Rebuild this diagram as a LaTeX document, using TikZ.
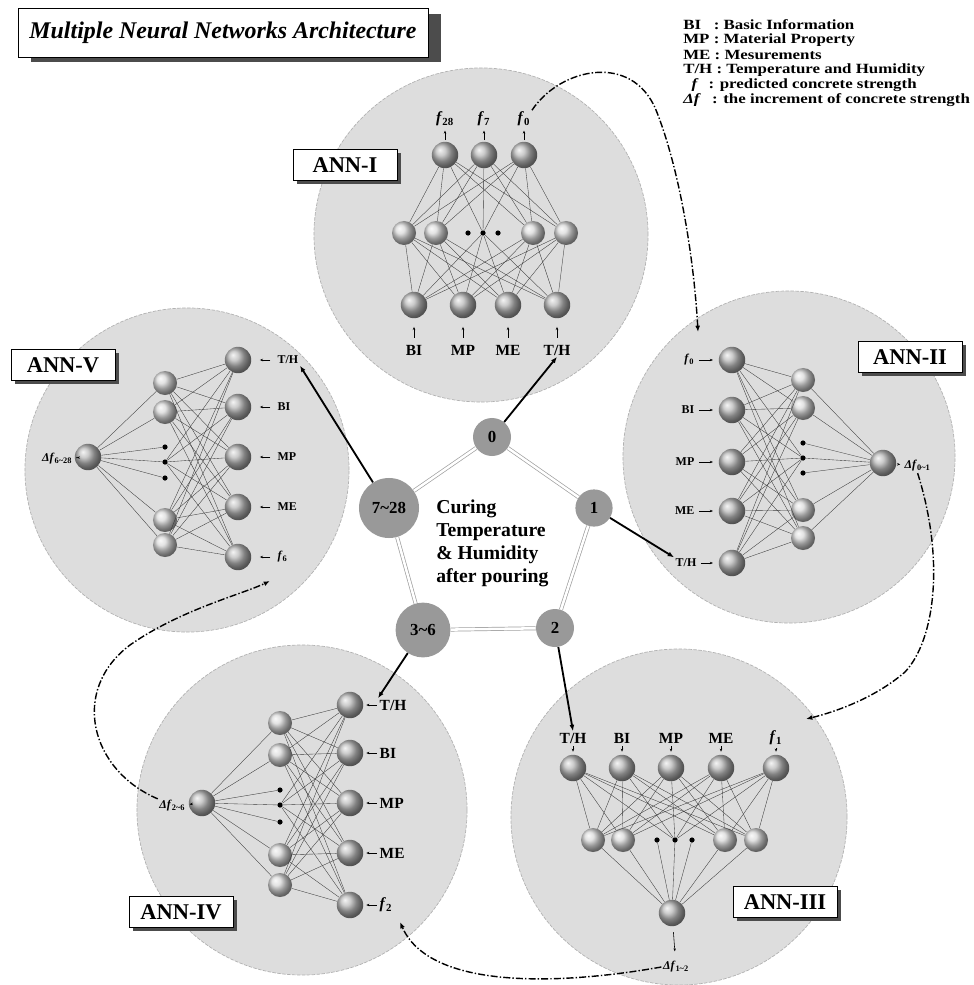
\documentclass[tikz,border=0pt]{standalone}
\usepackage{fontspec}
\setmainfont{Liberation Serif}
\newfontfamily\legfont{Liberation Serif}[FakeStretch=1.2]
\usetikzlibrary{arrows.meta,shadows}
\newcommand\setfs[2]{\fontsize{#1}{#2}\selectfont}
\newcommand\fval[1]{\textbf{\textit{f}}\textsubscript{\textbf{#1}}}
\newcommand\dfval[1]{\textbf{\textit{Δf}}\textsubscript{\textbf{#1}}}
\newcommand\tl{\textasciitilde}
\begin{document}
\begin{tikzpicture}[x=0.025cm,y=-0.025cm,
  panel/.style={circle, inner sep=0, fill=gray!27, draw=gray!60, dash pattern=on 2.5pt off 1pt, line width=0.5pt},
  neuron/.style={circle, inner sep=0, minimum size=0.66cm, shading=ball, ball color=gray!55},
  hid/.style={neuron, minimum size=0.6cm, ball color=gray!30},
  dotn/.style={circle, inner sep=0, minimum size=0.13cm, fill=black},
  wire/.style={draw=gray!45!black, line width=0.25pt},
  lbl/.style={font=\setfs{11}{12}\bfseries, inner sep=1pt},
  slbl/.style={font=\setfs{8.5}{10}\bfseries, inner sep=1pt},
  tick/.style={-{Stealth[length=2.2pt,width=1.8pt]}, line width=0.4pt, shorten >=2pt, shorten <=1pt},
  ltick/.style={tick, shorten >=6pt, shorten <=4pt},
  annbox/.style={draw=black, line width=0.6pt, fill=white, font=\setfs{16}{18}\bfseries, minimum width=2.6cm, minimum height=0.78cm, inner sep=0,
    drop shadow={shadow xshift=2.5pt, shadow yshift=-2.5pt, fill=gray!60!black, opacity=1}},
  titlebox/.style={draw=black, line width=0.6pt, fill=white, font=\setfs{17}{20}\bfseries\itshape, minimum width=10.25cm, minimum height=1.22cm, inner sep=0,
    drop shadow={shadow xshift=9pt, shadow yshift=-3.5pt, fill=gray!60!black, opacity=1}},
  stage/.style={circle, inner sep=0, fill=gray!80, font=\setfs{12}{14}\bfseries},
  ring/.style={draw=gray!75, line width=0.5pt, double=white, double distance=1.8pt},
  link/.style={line width=1.3pt, -{Latex[length=4.5pt,width=3.5pt]}},
  feed/.style={line width=1pt, dash pattern=on 5pt off 1.5pt on 1pt off 1.5pt, -{Latex[length=4.5pt,width=3.5pt]}},
  leg/.style={anchor=west, inner sep=0, font=\legfont\setfs{10}{11}\bfseries}
]
\useasboundingbox (0,0) rectangle (973,985);

% ---------- title and legend ----------
\node[titlebox] (T) at (223,33) {Multiple Neural Networks Architecture};
\node[leg] (k1) at (683,25) {BI\hspace{9pt}: Basic Information};
\node[leg] (k2) at (683,40) {MP : Material Property};
\node[leg] (k3) at (683,55) {ME : Mesurements};
\node[leg] (k4) at (683,70) {T/H : Temperature and Humidity};
\node[leg] (k5) at (683,85) {\hspace{6pt}\textit{f}\hspace{4pt} : predicted concrete strength};
\node[leg] (k6) at (683,100) {\textit{Δf}\hspace{8pt}: the increment of concrete strength};

% ---------- panels ----------
\node[panel, minimum size=8.35cm] (P1) at (481,235) {};
\node[panel, minimum size=8.3cm]  (P2) at (789,457) {};
\node[panel, minimum size=8.4cm]  (P3) at (679,817) {};
\node[panel, minimum size=8.25cm] (P4) at (302,810) {};
\node[panel, minimum size=8.1cm]  (P5) at (187,470) {};

% ---------- ANN-I ----------
\foreach \x [count=\i] in {445,484,524} \node[neuron] (A-o\i) at (\x,155) {};
\foreach \x [count=\i] in {404,436,533,566} \node[hid] (A-h\i) at (\x,233) {};
\foreach \x [count=\i] in {468,483,498} \node[dotn] (A-d\i) at (\x,233) {};
\foreach \x [count=\i] in {414,463,508,557} \node[neuron] (A-i\i) at (\x,305) {};
\foreach \a in {1,2,3}{\foreach \b in {1,...,4}{\draw[wire] (A-o\a) -- (A-h\b);} \draw[wire] (A-o\a) -- (A-d2);}
\foreach \a in {1,...,4}{\foreach \b in {1,...,4}{\draw[wire] (A-i\a) -- (A-h\b);} \draw[wire] (A-i\a) -- (A-d2);}
\node[lbl] (A-l1) at (414,350) {BI};
\node[lbl] (A-l2) at (463,350) {MP};
\node[lbl] (A-l3) at (508,350) {ME};
\node[lbl] (A-l4) at (557,350) {T/H};
\foreach \i in {1,...,4} \draw[ltick] (A-l\i) -- (A-i\i);
\node[lbl] (A-f1) at (445,119) {\fval{28}};
\node[lbl] (A-f2) at (484,119) {\fval{7}};
\node[lbl] (A-f3) at (524,119) {\fval{0}};
\foreach \i in {1,2,3} \draw[tick] (A-o\i) -- (A-f\i);
\node[annbox] (N1) at (345,165) {ANN-I};

% ---------- ANN-II ----------
\foreach \y [count=\i] in {360,410,462,511,563} \node[neuron] (B-i\i) at (732,\y) {};
\foreach \y [count=\i] in {380,408,510,538} \node[hid] (B-h\i) at (803,\y) {};
\foreach \y [count=\i] in {443,458,473} \node[dotn] (B-d\i) at (803,\y) {};
\node[neuron] (B-o) at (883,463) {};
\foreach \a in {1,...,5}{\foreach \b in {1,...,4}{\draw[wire] (B-i\a) -- (B-h\b);} \draw[wire] (B-i\a) -- (B-d2);}
\foreach \b in {1,...,4} \draw[wire] (B-h\b) -- (B-o);
\foreach \b in {1,2,3} \draw[wire] (B-d\b) -- (B-o);
\node[slbl, anchor=east] (B-l1) at (696,360) {\fval{0}};
\node[slbl, anchor=east] (B-l2) at (696,410) {BI};
\node[slbl, anchor=east] (B-l3) at (696,462) {MP};
\node[slbl, anchor=east] (B-l4) at (696,511) {ME};
\node[slbl, anchor=east] (B-l5) at (698,563) {T/H};
\foreach \i in {1,...,5} \draw[tick, shorten >=4pt, shorten <=2pt] (B-l\i) -- (B-i\i);
\node[slbl, anchor=west] (B-dl) at (903,466) {\dfval{0\tl1}};
\draw[tick] (B-o) -- (B-dl);
\node[annbox] (N2) at (910,357) {ANN-II};

% ---------- ANN-III ----------
\foreach \x [count=\i] in {573,622,671,721,776} \node[neuron] (C-i\i) at (\x,768) {};
\foreach \x [count=\i] in {593,623,725,756} \node[hid] (C-h\i) at (\x,840) {};
\foreach \x [count=\i] in {657,675,692} \node[dotn] (C-d\i) at (\x,840) {};
\node[neuron] (C-o) at (672,913) {};
\foreach \a in {1,...,5}{\foreach \b in {1,...,4}{\draw[wire] (C-i\a) -- (C-h\b);} \draw[wire] (C-i\a) -- (C-d2);}
\foreach \b in {1,...,4} \draw[wire] (C-h\b) -- (C-o);
\foreach \b in {1,2,3} \draw[wire] (C-d\b) -- (C-o);
\node[lbl] (C-l1) at (573,738) {T/H};
\node[lbl] (C-l2) at (622,738) {BI};
\node[lbl] (C-l3) at (671,738) {MP};
\node[lbl] (C-l4) at (721,738) {ME};
\node[lbl] (C-l5) at (776,738) {\fval{1}};
\foreach \i in {1,...,5} \draw[tick] (C-l\i) -- (C-i\i);
\node[slbl] (C-dl) at (676,967) {\dfval{1\tl2}};
\draw[ltick] (C-o) -- (C-dl);
\node[annbox] (N3) at (785,902) {ANN-III};

% ---------- ANN-IV ----------
\foreach \y [count=\i] in {705,753,803,853,905} \node[neuron] (D-i\i) at (350,\y) {};
\foreach \y [count=\i] in {723,755,855,885} \node[hid] (D-h\i) at (280,\y) {};
\foreach \y [count=\i] in {790,805,822} \node[dotn] (D-d\i) at (280,\y) {};
\node[neuron] (D-o) at (202,803) {};
\foreach \a in {1,...,5}{\foreach \b in {1,...,4}{\draw[wire] (D-i\a) -- (D-h\b);} \draw[wire] (D-i\a) -- (D-d2);}
\foreach \b in {1,...,4} \draw[wire] (D-h\b) -- (D-o);
\foreach \b in {1,2,3} \draw[wire] (D-d\b) -- (D-o);
\node[lbl, anchor=west] (D-l1) at (378,705) {T/H};
\node[lbl, anchor=west] (D-l2) at (378,753) {BI};
\node[lbl, anchor=west] (D-l3) at (378,803) {MP};
\node[lbl, anchor=west] (D-l4) at (378,853) {ME};
\node[lbl, anchor=west] (D-l5) at (378,905) {\fval{2}};
\foreach \i in {1,...,5} \draw[tick] (D-l\i) -- (D-i\i);
\node[slbl, anchor=east] (D-dl) at (187,806) {\dfval{2\tl6}};
\draw[tick] (D-o) -- (D-dl);
\node[annbox] (N4) at (181,912) {ANN-IV};

% ---------- ANN-V ----------
\foreach \y [count=\i] in {360,407,457,507,557} \node[neuron] (E-i\i) at (238,\y) {};
\foreach \y [count=\i] in {383,412,520,545} \node[hid] (E-h\i) at (165,\y) {};
\foreach \y [count=\i] in {447,462,478} \node[dotn] (E-d\i) at (165,\y) {};
\node[neuron] (E-o) at (88,457) {};
\foreach \a in {1,...,5}{\foreach \b in {1,...,4}{\draw[wire] (E-i\a) -- (E-h\b);} \draw[wire] (E-i\a) -- (E-d2);}
\foreach \b in {1,...,4} \draw[wire] (E-h\b) -- (E-o);
\foreach \b in {1,2,3} \draw[wire] (E-d\b) -- (E-o);
\node[slbl, anchor=west] (E-l1) at (276,360) {T/H};
\node[slbl, anchor=west] (E-l2) at (276,407) {BI};
\node[slbl, anchor=west] (E-l3) at (276,457) {MP};
\node[slbl, anchor=west] (E-l4) at (276,507) {ME};
\node[slbl, anchor=west] (E-l5) at (276,557) {\fval{6}};
\foreach \i in {1,...,5} \draw[ltick] (E-l\i) -- (E-i\i);
\node[slbl, anchor=east] (E-dl) at (74,459) {\dfval{6\tl28}};
\draw[tick] (E-o) -- (E-dl);
\node[annbox] (N5) at (63,365) {ANN-V};

% ---------- curing stages ----------
\node[stage, minimum size=0.95cm] (s0)   at (492,437) {0};
\node[stage, minimum size=0.93cm] (s1)   at (594,508) {1};
\node[stage, minimum size=0.95cm] (s2)   at (555,628) {2};
\node[stage, minimum size=1.37cm] (s36)  at (423,630) {3\tl6};
\node[stage, minimum size=1.5cm]  (s728) at (389,508) {7\tl28};
\draw[ring] (s0) -- (s1);
\draw[ring] (s1) -- (s2);
\draw[ring] (s2) -- (s36);
\draw[ring] (s36) -- (s728);
\draw[ring] (s728) -- (s0);
\node[anchor=west, align=left, inner sep=0, font=\setfs{14}{16.4}\bfseries] (cur) at (436,543)
  {Curing\\Temperature\\\& Humidity\\after pouring};

\draw[link] (s0) -- (A-l4.south);
\draw[link] (s1) -- (B-l5.north west);
\draw[link] (s2) -- (C-l1.north);
\draw[link] (s36) -- (D-l1.north west);
\draw[link] (s728) -- (E-l1.south east);

% ---------- estimates passed between networks ----------
\coordinate (B-in) at (698,332);
\coordinate (C-in) at (806,719);
\coordinate (D-in) at (400,922);
\coordinate (E-in) at (270,581);
\draw[feed] (A-f3.north east) .. controls (560,68) and (632,52) .. (656,110)
  .. controls (680,170) and (694,260) .. (B-in);
\draw[feed] (B-dl.south) .. controls (945,560) and (935,640) .. (905,672)
  .. controls (875,698) and (835,712) .. (C-in);
\draw[feed] (C-dl.west) .. controls (560,985) and (430,990) .. (D-in);
\draw[feed] (D-dl.north west) .. controls (90,770) and (70,690) .. (130,645)
  .. controls (180,610) and (240,595) .. (E-in);
\end{tikzpicture}
\end{document}
